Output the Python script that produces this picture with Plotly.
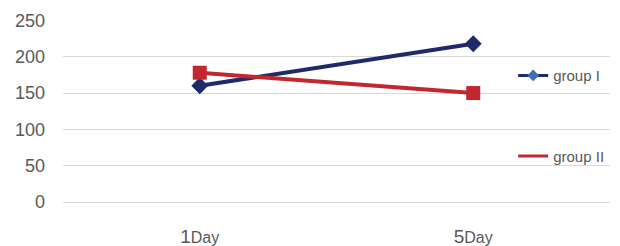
import plotly.graph_objects as go

categories = ["1Day", "5Day"]
tick_text = ["<span style='font-size:19px'>1</span>Day", "<span style='font-size:19px'>5</span>Day"]
group_1 = [160, 218]
group_2 = [178, 150]
y_ticks = [0, 50, 100, 150, 200, 250]

BLUE = "#1F2A6A"
RED = "#C1272D"

fig = go.Figure()
fig.add_trace(go.Scatter(
    x=categories, y=group_1, name="group I", mode="lines+markers",
    line=dict(color=BLUE, width=4),
    marker=dict(symbol="diamond", size=13, color=BLUE),
    showlegend=False,
))
fig.add_trace(go.Scatter(
    x=categories, y=group_2, name="group II", mode="lines+markers",
    line=dict(color=RED, width=4),
    marker=dict(symbol="square", size=14, color=RED),
    showlegend=False,
))
# legend entries (styled like the reference legend)
fig.add_trace(go.Scatter(
    x=[None], y=[None], name="group I", mode="lines+markers",
    line=dict(color=BLUE, width=3),
    marker=dict(symbol="diamond", size=9, color="#3F6FB8"),
    legendgroup="g1",
))
fig.add_trace(go.Scatter(
    x=[None], y=[None], name="group II", mode="lines",
    line=dict(color=RED, width=3),
    legendgroup="g2",
))

fig.update_layout(
    width=620, height=246,
    margin=dict(l=55, r=18, t=12, b=52, autoexpand=False),
    paper_bgcolor="white", plot_bgcolor="white",
    font=dict(family="Liberation Sans, Arial, sans-serif", color="#595959"),
    legend=dict(
        x=0.823, y=0.785, xanchor="left", yanchor="top",
        bgcolor="rgba(0,0,0,0)", font=dict(size=15, color="#595959"),
        traceorder="grouped", tracegroupgap=58,
    ),
    showlegend=True,
)
fig.update_xaxes(
    type="category", range=[-0.5, 1.5],
    tickvals=categories, ticktext=tick_text,
    showgrid=False, showline=False, ticks="",
    tickfont=dict(size=16, color="#595959"),
    ticklabelstandoff=24, automargin=False,
)
fig.update_yaxes(
    range=[0, 250.6], tickvals=y_ticks,
    showgrid=True, gridcolor="#D9D9D9", gridwidth=1,
    zeroline=True, zerolinecolor="#D9D9D9", zerolinewidth=1,
    showline=False, ticks="",
    tickfont=dict(size=18, color="#595959"),
    ticklabelstandoff=17, automargin=False,
)

fig.write_html("out.html")
